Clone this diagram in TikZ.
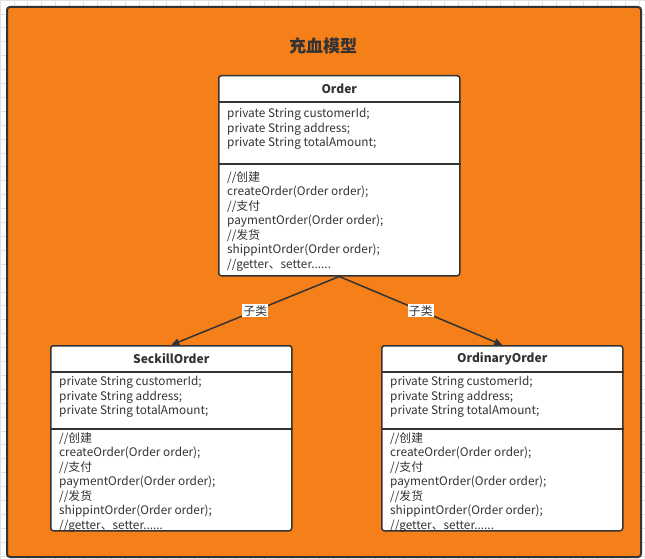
\documentclass[tikz,border=0pt]{standalone}
\usepackage{fontspec}
\setmainfont{Noto Sans CJK SC}
\usetikzlibrary{arrows.meta}
\definecolor{bgorange}{HTML}{F5801A}
\definecolor{dk}{HTML}{333333}
\definecolor{gridc}{HTML}{E2E2E2}
\newcommand{\umlcls}[8]{%
  \node[box, minimum height=#4pt] (#1) at (#2,#3) {};
  \draw[sepline] ([yshift=-27pt]#1.north west) -- ([yshift=-27pt]#1.north east);
  \draw[sepline] ([yshift=-#6pt]#1.north west) -- ([yshift=-#6pt]#1.north east);
  \node[hdr] (#1-t) at ([yshift=-13.5pt]#1.north) {#5};
  \node[txt] (#1-a) at ([xshift=9pt,yshift=-#7pt]#1.north west) {private String customerId;\\private String address;\\private String totalAmount;};
  \node[txt] (#1-m) at ([xshift=9pt,yshift=-#8pt]#1.north west) {//创建\\createOrder(Order order);\\//支付\\paymentOrder(Order order);\\//发货\\shippintOrder(Order order);\\//getter、setter......};
}
\begin{document}
\begin{tikzpicture}[x=1pt,y=-1pt,
  box/.style={draw=dk, line width=1.5pt, rounded corners=2.5pt, fill=white, anchor=north west, minimum width=241pt, inner sep=0pt},
  sepline/.style={draw=dk, line width=1.5pt},
  hdr/.style={font=\bfseries\fontsize{12}{14}\selectfont, text=dk, inner sep=0pt},
  txt/.style={font=\fontsize{11.8}{14.5}\selectfont, text=dk, align=left, anchor=north west, inner sep=0pt},
  conn/.style={draw=dk, line width=1.5pt, -{Triangle[length=8pt,width=7pt]}},
  lbl/.style={fill=white, font=\fontsize{11.8}{13}\selectfont, text=dk, inner sep=1pt}]
\useasboundingbox (0,0) rectangle (645,559);
\fill[white] (0,0) rectangle (645,559);
\foreach \i in {0,...,46} \draw[gridc, line width=0.7pt] (\i*13.9,0) -- (\i*13.9,559);
\foreach \i in {0,...,40} \draw[gridc, line width=0.7pt] (0,\i*13.9) -- (645,\i*13.9);
\node[draw=dk, line width=2pt, fill=bgorange, rounded corners=3pt, minimum width=634pt, minimum height=550pt, anchor=north west, inner sep=0pt] (frame) at (6,6) {};
\node[font=\bfseries\fontsize{17}{20}\selectfont, text=dk] (title) at (323,46) {充血模型};
\umlcls{order}{218}{75}{200}{Order}{89}{33}{96}
\umlcls{seck}{50}{345}{185}{SeckillOrder}{84}{31}{87}
\umlcls{ord}{381}{345}{185}{OrdinaryOrder}{84}{31}{87}
\draw[conn] (order.south) -- node[lbl] (l1) {子类} (seck.north);
\draw[conn] (order.south) -- node[lbl] (l2) {子类} (ord.north);
\end{tikzpicture}
\end{document}
